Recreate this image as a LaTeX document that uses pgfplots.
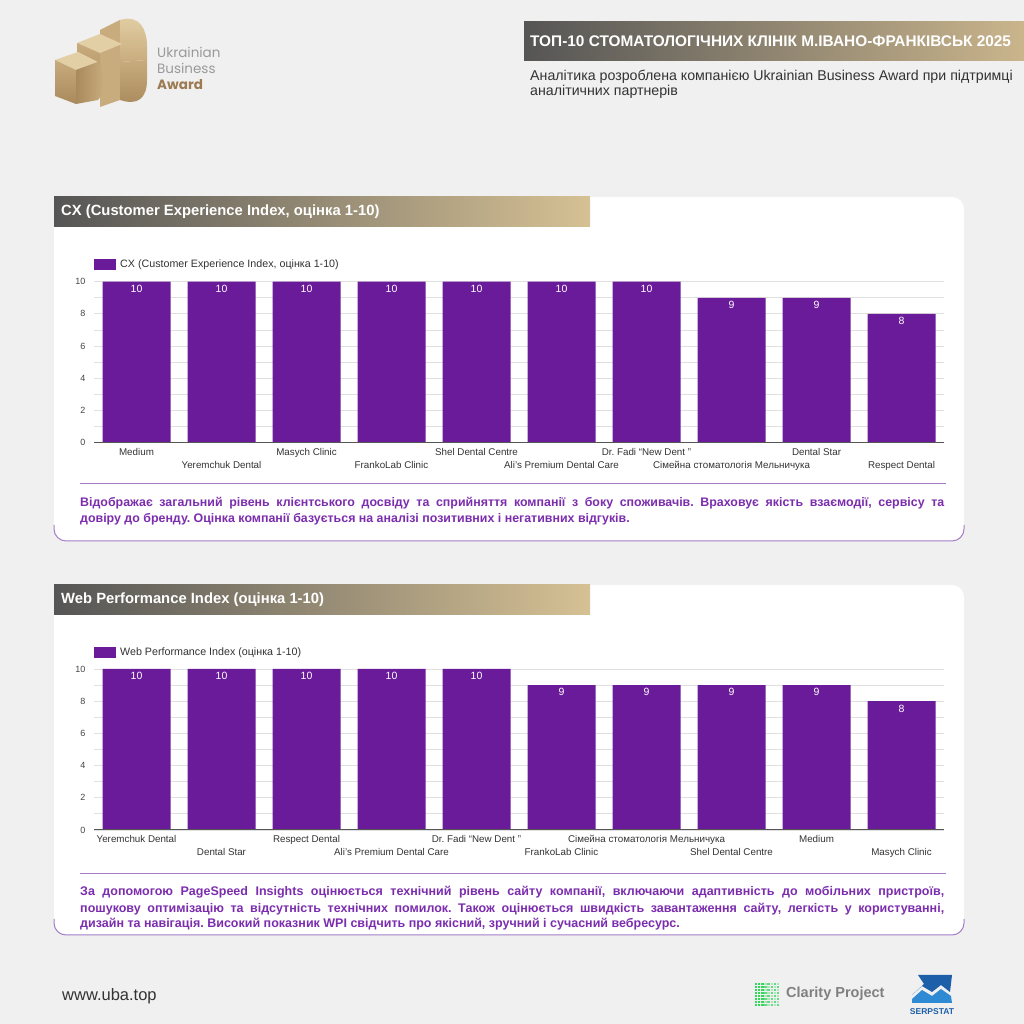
\documentclass[border=0pt]{standalone}
\usepackage{fontspec}
\setmainfont{Liberation Sans}
\newfontfamily\pop{Poppins}
\usepackage{pgfplots}
\pgfplotsset{compat=1.18}
\frenchspacing
\definecolor{bg}{HTML}{F0F0F0}
\definecolor{barc}{HTML}{6A1B9A}
\definecolor{ptext}{HTML}{7B2DAE}
\definecolor{pline}{HTML}{A57DC8}
\definecolor{dgray}{HTML}{555555}
\definecolor{gold}{HTML}{D6C194}
\definecolor{gold2}{HTML}{CAB58C}
\definecolor{lbl}{HTML}{333333}
\definecolor{tickc}{HTML}{444444}
\definecolor{gridc}{HTML}{E0E0E0}
\definecolor{axc}{HTML}{555555}
\definecolor{gl}{HTML}{E3CFA6}
\definecolor{gm}{HTML}{C9AC7D}
\definecolor{gd}{HTML}{A88A5C}
\definecolor{ubagray}{HTML}{9A9A9A}
\definecolor{ubagold}{HTML}{9C7A52}
\definecolor{clgreen}{HTML}{34D65C}
\definecolor{sblue}{HTML}{1D5FA8}
\definecolor{sblue2}{HTML}{2F8AD4}
\pgfplotsset{
  mybars/.style={
    scale only axis, width=850pt, height=161pt,
    xmin=-0.5, xmax=9.5, ymin=0, ymax=10,
    ybar, bar width=68pt,
    axis line style={draw=none},
    major tick length=0pt, minor tick length=0pt,
    ytick={0,2,4,6,8,10}, minor ytick={1,3,5,7,9},
    ymajorgrids, yminorgrids,
    major grid style={draw=gridc, line width=0.8pt},
    minor grid style={draw=gridc, line width=0.8pt},
    /pgf/number format/assume math mode=true,
    yticklabel style={font=\fontsize{9}{10}\selectfont, text=tickc, xshift=-5pt},
    xtick={0,2,4,6,8},
    extra x ticks={1,3,5,7,9},
    extra x tick style={tick label style={yshift=-13pt}},
    xticklabel style={font=\fontsize{9.8}{10}\selectfont, text=lbl, yshift=-2pt},
    nodes near coords, nodes near coords align={below},
    every node near coord/.append style={text=white, font=\fontsize{10.5}{11}\selectfont},
    legend style={at={(0,1)}, anchor=south west, yshift=10pt, draw=none, fill=none, inner sep=0pt, font=\fontsize{10.7}{12}\selectfont, text=lbl},
    legend image code/.code={\fill[barc] (0pt,-5.5pt) rectangle (22pt,5.5pt);},
  }
}
\begin{document}
\begin{tikzpicture}
\begin{scope}[yshift=1024pt, yscale=-1, x=1pt, y=1pt]
\fill[bg] (0,0) rectangle (1024,1024);
\path[use as bounding box] (0,0) rectangle (1024,1024);
% logo
\fill[gm] (100,30) -- (120,20) -- (120,100) -- (100,107) -- cycle;
\shade[top color=gl, bottom color=gm] (120,20) .. controls (140,14) and (147,30) .. (147,46) -- (147,60) -- (120,62) -- cycle;
\shade[top color=gm, bottom color=gd] (120,62) -- (147,60) -- (147,80) .. controls (147,98) and (138,106) .. (120,100) -- cycle;
\fill[gl] (77,43) -- (100,34) -- (122,44) -- (100,53) -- cycle;
\shade[top color=gm, bottom color=gd] (77,43) -- (100,53) -- (100,95) -- (77,88) -- cycle;
\fill[gl] (55,60) -- (78,52) -- (98,62) -- (76,70) -- cycle;
\shade[top color=gm, bottom color=gd] (55,60) -- (76,70) -- (76,104) -- (55,96) -- cycle;
\shade[left color=gd, right color=gm] (76,70) -- (98,62) .. controls (104,68) and (104,96) .. (98,100) -- (76,104) -- cycle;
\node[anchor=base west, inner sep=0, text=ubagray, font=\pop\fontsize{13.5}{14}\selectfont] at (157,58) {Ukrainian};
\node[anchor=base west, inner sep=0, text=ubagray, font=\pop\fontsize{13.5}{14}\selectfont] at (157,74) {Business};
\node[anchor=base west, inner sep=0, text=ubagold, font=\pop\bfseries\fontsize{13.5}{14}\selectfont] at (157,90) {Award};
% title
\shade[left color=dgray, right color=gold2] (524,22) rectangle (1024,61);
\node[anchor=west, inner sep=0, text=white, font=\bfseries\fontsize{15.4}{16}\selectfont] at (530,41.5) {ТОП-10 СТОМАТОЛОГІЧНИХ КЛІНІК М.ІВАНО-ФРАНКІВСЬК 2025};
\node[anchor=base west, inner sep=0, text=lbl, font=\fontsize{14.2}{15}\selectfont] at (530,80.5) {Аналітика розроблена компанією Ukrainian Business Award при підтримці};
\node[anchor=base west, inner sep=0, text=lbl, font=\fontsize{14.2}{15}\selectfont] at (530,96) {аналітичних партнерів};
% panel 1
\fill[white, rounded corners=12pt] (54,197) rectangle (964,541);
\draw[pline, line width=1pt, rounded corners=12pt] (54,525) -- (54,541) -- (964,541) -- (964,525);
\shade[left color=dgray, right color=gold] (54,197) rectangle (590,227);
\node[anchor=west, inner sep=0, text=white, font=\bfseries\fontsize{14.8}{16}\selectfont] at (61,212) {CX (Customer Experience Index, оцінка 1-10)};
\draw[pline, line width=1pt] (80,484) -- (946,484);
\node[anchor=north west, text width=864pt, align=justify, inner sep=0, text=ptext, font=\bfseries\fontsize{12.4}{16}\selectfont] at (80,497) {Відображає загальний рівень клієнтського досвіду та сприйняття компанії з боку споживачів. Враховує якість взаємодії, сервісу та\linebreak довіру до бренду. Оцінка компанії базується на аналізі позитивних і негативних відгуків.};
% panel 2
\fill[white, rounded corners=12pt] (54,585) rectangle (964,935);
\draw[pline, line width=1pt, rounded corners=12pt] (54,919) -- (54,935) -- (964,935) -- (964,919);
\shade[left color=dgray, right color=gold] (54,585) rectangle (590,615);
\node[anchor=west, inner sep=0, text=white, font=\bfseries\fontsize{14.8}{16}\selectfont] at (61,600) {Web Performance Index (оцінка 1-10)};
\draw[pline, line width=1pt] (80,874) -- (946,874);
\node[anchor=north west, text width=864pt, align=justify, inner sep=0, text=ptext, font=\bfseries\fontsize{12.5}{16}\selectfont] at (80,886.5) {За допомогою PageSpeed Insights оцінюється технічний рівень сайту компанії, включаючи адаптивність до мобільних пристроїв,\linebreak пошукову оптимізацію та відсутність технічних помилок. Також оцінюється швидкість завантаження сайту, легкість у користуванні,\linebreak дизайн та навігація. Високий показник WPI свідчить про якісний, зручний і сучасний вебресурс.};
% footer
\node[anchor=west, inner sep=0, text=lbl, font=\fontsize{16.5}{17}\selectfont] at (62,996) {www.uba.top};
\foreach \i in {0,...,7}{
  \foreach \j in {0,...,7}{
    \pgfmathsetmacro{\op}{(\i<3 ? 1 : (mod(\i+\j,2)==0 ? 0.75 : 0.35))}
    \fill[clgreen, opacity=\op] ({755+\i*3.1},{983+\j*3}) rectangle ++(2.3,2.2);
  }
}
\node[anchor=west, inner sep=0, text=gray, font=\bfseries\fontsize{14.5}{15}\selectfont] at (786,994) {Clarity Project};
\fill[sblue] (918,975) -- (952,975) -- (950,992) -- (941,985) -- (932,992) -- (922,986) -- (912,995) -- (924,984) -- cycle;
\fill[sblue2] (912,999) -- (922,990) -- (932,996) -- (941,989) -- (951,996) -- (952,1003) -- (912,1003) -- cycle;
\node[inner sep=0, text=sblue, font=\bfseries\fontsize{8.5}{9}\selectfont] at (932,1012) {SERPSTAT};
\end{scope}
% chart 1
\begin{axis}[mybars, at={(94pt,581.3pt)}, anchor=south west,
  legend style={/tikz/every odd column/.append style={column sep=2pt}},
  xticklabels={Medium, Masych Clinic, Shel Dental Centre, Dr. Fadi “New Dent ”, Dental Star},
  extra x tick labels={Yeremchuk Dental, FrankoLab Clinic, Ali's Premium Dental Care, Сімейна стоматологія Мельничука, Respect Dental}]
\addplot[fill=barc, draw=none] coordinates {(0,10) (1,10) (2,10) (3,10) (4,10) (5,10) (6,10) (7,9) (8,9) (9,8)};
\addlegendentry{CX (Customer Experience Index, оцінка 1-10)}
\draw[axc, line width=1pt] (axis cs:-0.5,0) -- (axis cs:9.5,0);
\end{axis}
% chart 2
\begin{axis}[mybars, at={(94pt,194pt)}, anchor=south west,
  legend style={/tikz/every odd column/.append style={column sep=2pt}},
  xticklabels={Yeremchuk Dental, Respect Dental, Dr. Fadi “New Dent ”, Сімейна стоматологія Мельничука, Medium},
  extra x tick labels={Dental Star, Ali's Premium Dental Care, FrankoLab Clinic, Shel Dental Centre, Masych Clinic}]
\addplot[fill=barc, draw=none] coordinates {(0,10) (1,10) (2,10) (3,10) (4,10) (5,9) (6,9) (7,9) (8,9) (9,8)};
\addlegendentry{Web Performance Index (оцінка 1-10)}
\draw[axc, line width=1pt] (axis cs:-0.5,0) -- (axis cs:9.5,0);
\end{axis}
\end{tikzpicture}
\end{document}
